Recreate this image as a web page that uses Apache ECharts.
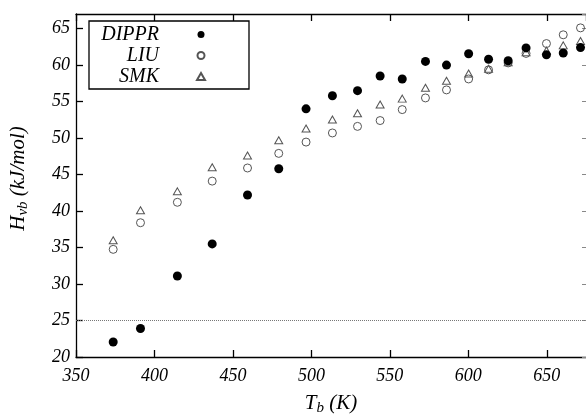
<!DOCTYPE html>
<html>
<head>
<meta charset="utf-8">
<script src="https://cdn.jsdelivr.net/npm/echarts@6/dist/echarts.min.js"></script>
<style>
html,body{margin:0;padding:0;background:#fff;}
#c{width:586px;height:414px;}
</style>
</head>
<body>
<div id="c"></div>
<script>
// Boiling temperature Tb (K)
const tb = [373.7, 391.1, 414.6, 436.8, 459.3, 479.2, 496.6, 513.4, 529.4, 543.8, 557.9, 572.7, 586.1, 600.2, 612.9, 625.4, 636.8, 649.8, 660.5, 671.5];
// Enthalpy of vaporization (kJ/mol)
const dippr = [22.05, 23.9, 31.1, 35.5, 42.2, 45.8, 54.0, 55.8, 56.5, 58.5, 58.1, 60.5, 60.0, 61.55, 60.8, 60.6, 62.35, 61.4, 61.65, 62.4];
const liu   = [34.75, 38.4, 41.2, 44.1, 45.9, 47.9, 49.45, 50.7, 51.6, 52.4, 53.9, 55.5, 56.6, 58.1, 59.35, 60.3, 61.6, 62.95, 64.15, 65.1];
const smk   = [36.0, 40.1, 42.7, 46.0, 47.6, 49.7, 51.3, 52.55, 53.4, 54.6, 55.4, 56.9, 57.85, 58.85, 59.5, 60.4, 61.75, 62.0, 62.7, 63.3];
const refLine = 25;
const xTicks = {min: 350, max: 675, interval: 50};
const yTicks = {min: 20, max: 67, interval: 5};

const serif = 'Liberation Serif';
const pair = (ys) => tb.map((x, i) => [x, ys[i]]);
const chart = echarts.init(document.getElementById('c'));
const richName = {
  i: {fontFamily: serif, fontStyle: 'italic', fontSize: 21, color: '#000'},
  s: {fontFamily: serif, fontStyle: 'italic', fontSize: 15, color: '#000', padding: [10, 0, 0, 0]}
};
chart.setOption({
  animation: false,
  backgroundColor: '#fff',
  grid: {left: 76, top: 14, right: 0, bottom: 57, containLabel: false, outerBoundsMode: 'none'},
  legend: {
    data: [{name: 'DIPPR', icon: 'circle'}, {name: 'LIU', icon: 'circle'}, {name: 'SMK', icon: 'triangle'}],
    orient: 'vertical',
    left: 89, top: 21,
    align: 'right',
    padding: [3, 43, 2, 6],
    itemGap: 0,
    itemWidth: 8,
    itemHeight: 7,
    borderColor: '#000',
    borderWidth: 1.3,
    formatter: (n) => '{t|' + n + '}{g|}',
    textStyle: {
      fontFamily: serif, fontStyle: 'italic', fontSize: 20, color: '#000', lineHeight: 21,
      rich: {
        t: {fontFamily: serif, fontStyle: 'italic', fontSize: 20, color: '#000', width: 64, align: 'right', lineHeight: 21},
        g: {width: 33}
      }
    }
  },
  xAxis: [{
    type: 'value', min: xTicks.min, max: xTicks.max, interval: xTicks.interval,
    name: '{i|T}{s|b}{i| (K)}', nameLocation: 'middle', nameGap: 34,
    nameTextStyle: {rich: richName},
    axisLine: {lineStyle: {color: '#000', width: 1.3}},
    axisTick: {inside: true, length: 7, lineStyle: {color: '#000', width: 1.3}},
    axisLabel: {showMaxLabel: false, margin: 10, fontFamily: serif, fontStyle: 'italic', fontSize: 18, color: '#000'},
    splitLine: {show: false}
  }, {
    type: 'value', position: 'top', min: xTicks.min, max: xTicks.max, interval: xTicks.interval,
    axisLine: {show: true, lineStyle: {color: '#000', width: 1.3}},
    axisTick: {inside: true, length: 7, lineStyle: {color: '#000', width: 1.3}},
    axisLabel: {show: false}, splitLine: {show: false}
  }],
  yAxis: [{
    type: 'value', min: yTicks.min, max: yTicks.max, interval: yTicks.interval,
    name: '{i|H}{s|vb}{i| (kJ/mol)}', nameLocation: 'middle', nameGap: 45, nameRotate: 90,
    nameTextStyle: {rich: richName, padding: [0, 0, 0, 14]},
    axisLine: {show: true, lineStyle: {color: '#000', width: 1.3}},
    axisTick: {show: true, inside: true, length: 7, lineStyle: {color: '#000', width: 1.3}},
    axisLabel: {showMaxLabel: false, margin: 6, fontFamily: serif, fontStyle: 'italic', fontSize: 18, color: '#000'},
    splitLine: {show: false}
  }, {
    type: 'value', position: 'right', min: yTicks.min, max: yTicks.max, interval: yTicks.interval,
    axisLine: {show: false},
    axisTick: {show: true, inside: true, length: 4, lineStyle: {color: '#888', width: 1}},
    axisLabel: {show: false}, splitLine: {show: false}
  }],
  series: [{
    name: 'LIU', type: 'scatter', data: pair(liu), symbol: 'circle', symbolSize: 8,
    itemStyle: {color: 'rgba(255,255,255,0)', borderColor: '#555', borderWidth: 1, opacity: 1}
  }, {
    name: 'SMK', type: 'scatter', data: pair(smk), symbol: 'triangle', symbolSize: [8, 7],
    itemStyle: {color: 'rgba(255,255,255,0)', borderColor: '#555', borderWidth: 1, opacity: 1}
  }, {
    name: 'DIPPR', type: 'scatter', data: pair(dippr), symbol: 'circle', symbolSize: 9,
    itemStyle: {color: '#000', opacity: 1},
    markLine: {
      silent: true, symbol: 'none', label: {show: false},
      lineStyle: {type: 'dotted', color: '#777', width: 1},
      data: [{yAxis: refLine}]
    }
  }]
});
</script>
</body>
</html>
